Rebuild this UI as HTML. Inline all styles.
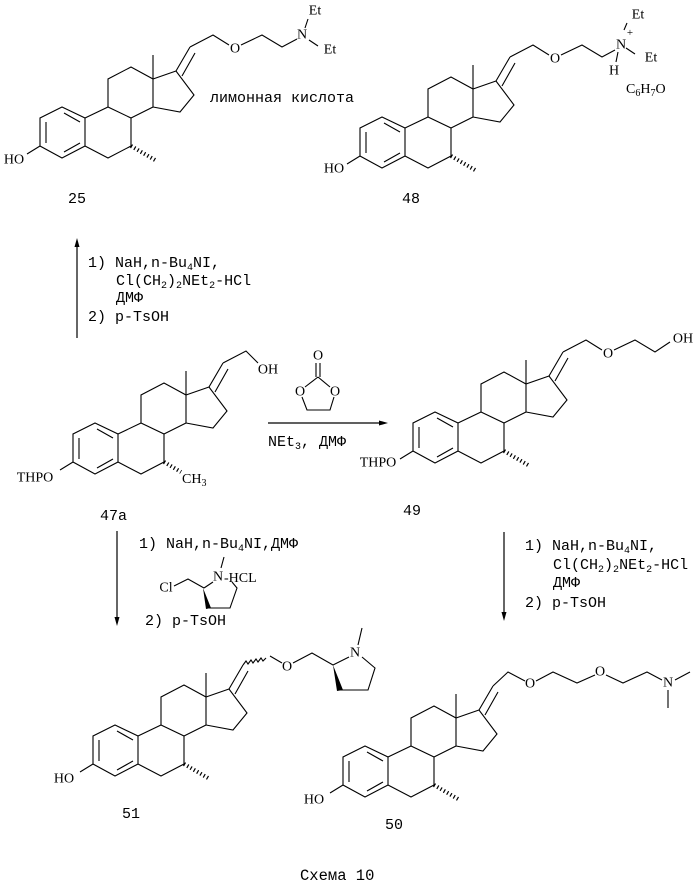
<!DOCTYPE html>
<html><head><meta charset="utf-8"><style>
html,body{margin:0;padding:0;background:#fff;}
svg{display:block;}
text{font-family:"Liberation Mono","Noto Sans CJK SC",monospace;fill:#000;}
.a{font-family:"Liberation Serif",serif;font-size:14px;text-anchor:middle;dominant-baseline:central;}
.s{font-family:"Liberation Serif",serif;font-size:14px;}
.r{font-size:15px;}
</style></head><body>
<svg width="700" height="888" viewBox="0 0 700 888" xmlns="http://www.w3.org/2000/svg">
<defs>
<g id="st" fill="none" stroke="#000" stroke-width="1.1">
<path d="M62,107 L40,118 L40,146 L62,158 L85,146 L85,118 Z"/>
<path d="M46,122 L46,143 M64,113 L80,122 M64,152 L80,143"/>
<path d="M85,118 L108,107 L131,118 L131,146 L108,158 L85,146"/>
<path d="M108,107 L108,79 L131,67 L153,79 L153,107 L131,118"/>
<path d="M153,79 L153,55"/>
<path d="M153,79 L176,71 L194,95 L180,112 L153,107"/>
<path d="M176,71 L190,47 M182,76 L195,53"/>
</g>
<g id="hm"><line x1="131" y1="146" x2="155" y2="160" stroke="#000" stroke-width="4" stroke-dasharray="1.2 2.6"/></g>
<g id="ho"><path d="M40,146 L27,154" stroke="#000" stroke-width="1.1"/></g>
</defs>

<!-- 25 -->
<use href="#st"/><use href="#hm"/><use href="#ho"/>
<text class="a" x="14" y="160">HO</text>
<path d="M190,47 L213,35 L229,45 M241,45 L262,35 L282,47 L297,39 M305,28 L308,19 M309,40 L318,46" fill="none" stroke="#000" stroke-width="1.1"/>
<text class="a" x="235" y="49">O</text>
<text class="a" x="302" y="35">N</text>
<text class="a" x="315" y="11">Et</text>
<text class="a" x="330" y="50">Et</text>
<text class="r" x="210" y="102">лимонная кислота</text>
<text class="r" x="68" y="203">25</text>

<!-- 48 -->
<g transform="translate(320,10)"><use href="#st"/><use href="#hm"/><use href="#ho"/>
<path d="M190,47 L213,35 L229,45 M241,45 L262,35 L282,47 L295,40 M304,20 L307,13 M306,38 L315,44 M298,42 L296,52" fill="none" stroke="#000" stroke-width="1.1"/>
<text class="a" x="235" y="49">O</text>
</g>
<text class="a" x="334" y="169">HO</text>
<text class="a" x="621" y="45">N</text>
<text class="a" x="630" y="33" style="font-size:11px">+</text>
<text class="a" x="638" y="15">Et</text>
<text class="a" x="651" y="58">Et</text>
<text class="a" x="614" y="71">H</text>
<text class="s" x="626" y="93">C<tspan dy="3" font-size="10">6</tspan><tspan dy="-3">H</tspan><tspan dy="3" font-size="10">7</tspan><tspan dy="-3">O</tspan></text>
<text class="r" x="402" y="203">48</text>

<!-- up arrow -->
<line x1="77" y1="338" x2="77" y2="244" stroke="#000" stroke-width="1.2"/>
<path d="M77,238 L74.5,247 L79.5,247 Z"/>
<text class="r" x="88" y="267">1) NaH,n-Bu<tspan dy="3" font-size="10">4</tspan><tspan dy="-3">NI,</tspan></text>
<text class="r" x="116" y="285">Cl(CH<tspan dy="3" font-size="10">2</tspan><tspan dy="-3">)</tspan><tspan dy="3" font-size="10">2</tspan><tspan dy="-3">NEt</tspan><tspan dy="3" font-size="10">2</tspan><tspan dy="-3">-HCl</tspan></text>
<text class="r" x="116" y="302">ДМФ</text>
<text class="r" x="88" y="321">2) p-TsOH</text>

<!-- 47a -->
<g transform="translate(33,316)"><use href="#st"/><use href="#ho"/>
<line x1="131" y1="146" x2="148" y2="156" stroke="#000" stroke-width="4" stroke-dasharray="1.2 2.6"/>
<path d="M190,47 L213,35 L225,47" fill="none" stroke="#000" stroke-width="1.1"/>
</g>
<text class="a" x="35" y="478">THPO</text>
<text class="s" x="182" y="483">CH<tspan dy="3" font-size="10">3</tspan></text>
<text class="a" x="268" y="370">OH</text>
<text class="r" x="100" y="520">47a</text>

<!-- carbonate + arrow -->
<g fill="none" stroke="#000" stroke-width="1.1">
<path d="M316,363 L316,377 M320,363 L320,377"/>
<path d="M318,377 L305,387 M318,377 L330,387 M302,397 L307,410 L330,410 L334,397"/>
</g>
<text class="a" x="318" y="356">O</text>
<text class="a" x="300" y="392">O</text>
<text class="a" x="335" y="392">O</text>
<line x1="268" y1="423" x2="382" y2="423" stroke="#000" stroke-width="1.2"/>
<path d="M388,423 L379,420.5 L379,425.5 Z"/>
<text class="r" x="268" y="446">NEt<tspan dy="3" font-size="10">3</tspan><tspan dy="-3">,  ДМФ</tspan></text>

<!-- 49 -->
<g transform="translate(373,305)"><use href="#st"/><use href="#hm"/><use href="#ho"/>
<path d="M190,47 L213,35 L229,45 M241,45 L262,35 L282,47 L297,37" fill="none" stroke="#000" stroke-width="1.1"/>
<text class="a" x="235" y="49">O</text>
</g>
<text class="a" x="378" y="463">THPO</text>
<text class="a" x="683" y="339">OH</text>
<text class="r" x="403" y="515">49</text>

<!-- down arrow left -->
<line x1="117" y1="531" x2="117" y2="619" stroke="#000" stroke-width="1.2"/>
<path d="M117,626 L114.5,617 L119.5,617 Z"/>
<text class="r" x="139" y="548">1) NaH,n-Bu<tspan dy="3" font-size="10">4</tspan><tspan dy="-3">NI,ДМФ</tspan></text>
<g fill="none" stroke="#000" stroke-width="1.1">
<path d="M174,586 L188,579 L204,588 M204,588 L213,582 M221,568 L224,557 M232,582 L237,588 L230,608 L209,608"/>
</g>
<path d="M203,588 L206,609 L211,608 Z"/>
<text class="a" x="166" y="588">Cl</text>
<text class="a" x="218" y="577">N</text>
<text class="s" x="224" y="582">-HCL</text>
<text class="r" x="145" y="625">2) p-TsOH</text>

<!-- 51 -->
<g transform="translate(53,618)"><use href="#st"/><use href="#hm"/><use href="#ho"/></g>
<text class="a" x="64" y="779">HO</text>
<path d="M243,665 l3,-4 l2,3 l3,-4 l2,3 l3,-4 l2,3 l3,-4 l2,3 l3,-3 M270,656 L282,663 M293,663 L312,653 L333,665 L349,657 M358,645 L362,628 M362,657 L375,668 L368,690 L340,690" fill="none" stroke="#000" stroke-width="1.1"/>
<path d="M333,665 L337,691 L343,690 Z"/>
<text class="a" x="287" y="667">O</text>
<text class="a" x="355" y="653">N</text>
<text class="r" x="122" y="818">51</text>

<!-- down arrow right -->
<line x1="504" y1="532" x2="504" y2="614" stroke="#000" stroke-width="1.2"/>
<path d="M504,621 L501.5,612 L506.5,612 Z"/>
<text class="r" x="525" y="550">1) NaH,n-Bu<tspan dy="3" font-size="10">4</tspan><tspan dy="-3">NI,</tspan></text>
<text class="r" x="553" y="569">Cl(CH<tspan dy="3" font-size="10">2</tspan><tspan dy="-3">)</tspan><tspan dy="3" font-size="10">2</tspan><tspan dy="-3">NEt</tspan><tspan dy="3" font-size="10">2</tspan><tspan dy="-3">-HCl</tspan></text>
<text class="r" x="553" y="587">ДМФ</text>
<text class="r" x="525" y="607">2) p-TsOH</text>

<!-- 50 -->
<g transform="translate(303,639)"><use href="#st"/><use href="#hm"/><use href="#ho"/></g>
<path d="M493,686 L508,672 L525,681 M536,681 L553,672 L577,683 L595,675 M606,675 L623,683 L647,672 L662,680 M675,680 L690,672 M668,690 L668,708" fill="none" stroke="#000" stroke-width="1.1"/>
<text class="a" x="530" y="684">O</text>
<text class="a" x="600" y="672">O</text>
<text class="a" x="668" y="683">N</text>
<text class="a" x="314" y="800">HO</text>
<text class="r" x="385" y="829">50</text>

<text class="r" x="300" y="880" style="font-size:15.5px">Схема 10</text>
</svg>
</body></html>
